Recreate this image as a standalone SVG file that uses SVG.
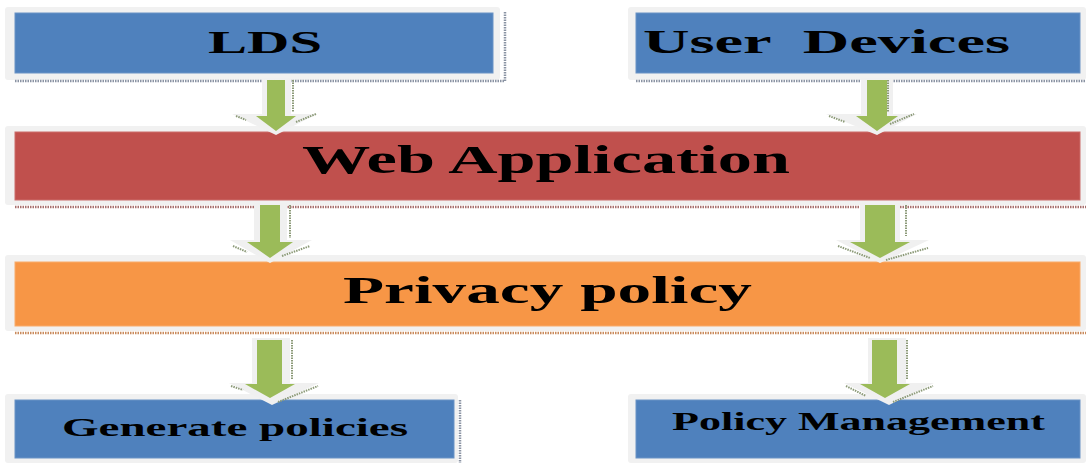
<svg xmlns="http://www.w3.org/2000/svg" width="1086" height="463" viewBox="0 0 1086 463">
<defs>
<style>
.halo{fill:#f1f1f1}
.blue{fill:#4f81bd;stroke:#6b93c6;stroke-width:1}
.red{fill:#c0504d;stroke:#cc6c6a;stroke-width:1}
.orange{fill:#f79646;stroke:#f9ab6a;stroke-width:1}
.dotB{stroke:#8a93a3;stroke-width:2.5;stroke-dasharray:1.5 1;fill:none}
.dotR{stroke:#a8706e;stroke-width:2.5;stroke-dasharray:1.5 1;fill:none}
.dotO{stroke:#c98a5c;stroke-width:2.5;stroke-dasharray:1.5 1;fill:none}
.ahalo{fill:#f0f0f0}
.agreen{fill:#9bbb59}
.adot{stroke:#8c9a78;stroke-width:2;stroke-dasharray:1.5 1;fill:none}
.lbl{font-family:"Liberation Serif","Times New Roman",serif;font-weight:bold;fill:#000}
</style>
</defs>
<rect width="1086" height="463" fill="#ffffff"/>

<g id="node-lds">
<rect class="halo" x="5" y="7" width="495" height="73" rx="3"/>
<rect class="blue" x="15" y="13" width="478" height="60"/>
<path class="dotB" d="M505 12 V81 M15 81 H505"/>
<text class="lbl" x="208" y="53" font-size="32" textLength="114" lengthAdjust="spacingAndGlyphs">LDS</text>
</g>

<g id="node-user-devices">
<rect class="halo" x="628" y="7" width="458" height="73" rx="3"/>
<rect class="blue" x="636" y="13" width="444" height="60"/>
<path class="dotB" d="M636 81 H1086"/>
<text class="lbl" x="643" y="53" font-size="33" textLength="367" lengthAdjust="spacingAndGlyphs" xml:space="preserve">User  Devices</text>
</g>

<g id="node-web-application">
<rect class="halo" x="5" y="126" width="1081" height="79" rx="3"/>
<rect class="red" x="15" y="132" width="1065" height="68"/>
<path class="dotR" d="M15 207 H1086"/>
<text class="lbl" x="302" y="173" font-size="39" textLength="488" lengthAdjust="spacingAndGlyphs">Web Application</text>
</g>

<g id="node-privacy-policy">
<rect class="halo" x="5" y="255" width="1081" height="76" rx="3"/>
<rect class="orange" x="15" y="262" width="1065" height="64"/>
<path class="dotO" d="M15 333 H1086"/>
<text class="lbl" x="343" y="303" font-size="38" textLength="409" lengthAdjust="spacingAndGlyphs">Privacy policy</text>
</g>

<g id="node-generate-policies">
<rect class="halo" x="5" y="394" width="453" height="69" rx="3"/>
<rect class="blue" x="15" y="400" width="439" height="58"/>
<path class="dotB" d="M460 400 V463"/>
<text class="lbl" x="62" y="436" font-size="26" textLength="346" lengthAdjust="spacingAndGlyphs">Generate policies</text>
</g>

<g id="node-policy-management">
<rect class="halo" x="628" y="394" width="458" height="69" rx="3"/>
<rect class="blue" x="636" y="400" width="444" height="58"/>
<text class="lbl" x="672" y="430" font-size="25" textLength="373" lengthAdjust="spacingAndGlyphs">Policy Management</text>
</g>

<g id="connectors">
<polygon class="ahalo" points="262,78 291,78 291,114 317,114 276,135 232,114 262,114"/>
<polygon class="agreen" points="267,80 285,80 285,116 296,116 276,131 256,116 267,116"/>
<path class="adot" d="M293 80 V112 M296 122 L316 114 M236 116 L246 120"/>
<polygon class="ahalo" points="861,78 893,78 893,114 917,114 877,135 826,114 861,114"/>
<polygon class="agreen" points="867,80 887,80 887,116 898,116 877,131 856,116 867,116"/>
<path class="adot" d="M888 80 V112 M890 124 L914 114 M829 116 L845 122"/>
<polygon class="ahalo" points="254,203 287,203 287,240 312,240 270,263 230,240 254,240"/>
<polygon class="agreen" points="260,205 280,205 280,242 293,242 270,258 247,242 260,242"/>
<path class="adot" d="M290 205 V238 M282 256 L310 246 M233 246 L247 252"/>
<polygon class="ahalo" points="860,203 900,203 900,240 929,240 880,263 836,240 860,240"/>
<polygon class="agreen" points="865,205 895,205 895,242 910,242 880,258 850,242 865,242"/>
<path class="adot" d="M906 205 V236 M886 260 L928 248 M838 246 L870 258"/>
<polygon class="ahalo" points="252,338 290,338 290,383 319,383 272,405 229,383 252,383"/>
<polygon class="agreen" points="257,340 282,340 282,384 295,384 270,398 245,384 257,384"/>
<path class="adot" d="M292 340 V380 M278 402 L318 386 M231 386 L243 390"/>
<polygon class="ahalo" points="868,338 906,338 906,383 934,383 889,405 844,383 868,383"/>
<polygon class="agreen" points="872,340 897,340 897,384 910,384 885,398 860,384 872,384"/>
<path class="adot" d="M907 340 V380 M893 402 L933 386 M846 386 L866 396"/>
</g>
</svg>
